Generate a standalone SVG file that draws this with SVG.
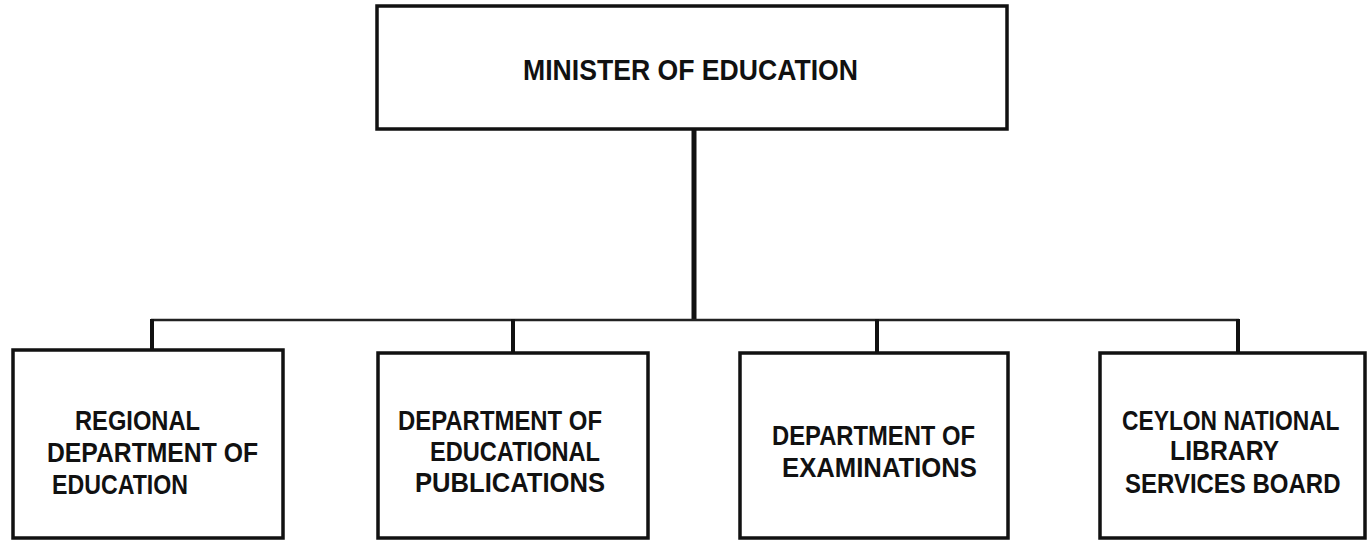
<svg xmlns="http://www.w3.org/2000/svg" width="1368" height="543" viewBox="0 0 1368 543">
<style>
.box{fill:#fff;stroke:#111;stroke-width:3.5}
.t{font-family:"Liberation Sans",Arial,sans-serif;font-weight:bold;font-size:28px;fill:#111}
.tt{font-size:29px}
.bus{stroke:#222;stroke-width:2.5;fill:none}
.drop{stroke:#111;stroke-width:4;fill:none}
.trunk{stroke:#111;stroke-width:5;fill:none}
</style>
<rect width="1368" height="543" fill="#fff"/>
<g id="connectors">
<line class="trunk" x1="694" y1="129" x2="694" y2="321"/>
<line class="bus" x1="151" y1="320" x2="1239" y2="320"/>
<line class="drop" x1="152" y1="319" x2="152" y2="351"/>
<line class="drop" x1="513" y1="319" x2="513" y2="354"/>
<line class="drop" x1="877" y1="319" x2="877" y2="354"/>
<line class="drop" x1="1238" y1="319" x2="1238" y2="354"/>
</g>
<g id="minister">
<rect class="box" x="377" y="6" width="630" height="123"/>
<text class="t tt" x="523" y="80" textLength="335" lengthAdjust="spacingAndGlyphs">MINISTER OF EDUCATION</text>
</g>
<g id="regional">
<rect class="box" x="13" y="350" width="270" height="188"/>
<text class="t" x="75" y="430" textLength="125" lengthAdjust="spacingAndGlyphs">REGIONAL</text>
<text class="t" x="47" y="462" textLength="211" lengthAdjust="spacingAndGlyphs">DEPARTMENT OF</text>
<text class="t" x="52" y="494" textLength="136" lengthAdjust="spacingAndGlyphs">EDUCATION</text>
</g>
<g id="publications">
<rect class="box" x="378" y="353" width="270" height="185"/>
<text class="t" x="398" y="430" textLength="204" lengthAdjust="spacingAndGlyphs">DEPARTMENT OF</text>
<text class="t" x="430" y="461" textLength="170" lengthAdjust="spacingAndGlyphs">EDUCATIONAL</text>
<text class="t" x="415" y="492" textLength="190" lengthAdjust="spacingAndGlyphs">PUBLICATIONS</text>
</g>
<g id="examinations">
<rect class="box" x="740" y="353" width="268" height="185"/>
<text class="t" x="772" y="445" textLength="203" lengthAdjust="spacingAndGlyphs">DEPARTMENT OF</text>
<text class="t" x="782" y="477" textLength="195" lengthAdjust="spacingAndGlyphs">EXAMINATIONS</text>
</g>
<g id="library">
<rect class="box" x="1100" y="353" width="265" height="185"/>
<text class="t" transform="translate(1122,430) scale(0.815,1)" x="0" y="0">CEYLON NATIONAL</text>
<text class="t" transform="translate(1170,460) scale(0.885,1)" x="0" y="0">LIBRARY</text>
<text class="t" transform="translate(1125,493) scale(0.857,1)" x="0" y="0">SERVICES BOARD</text>
</g>
</svg>
